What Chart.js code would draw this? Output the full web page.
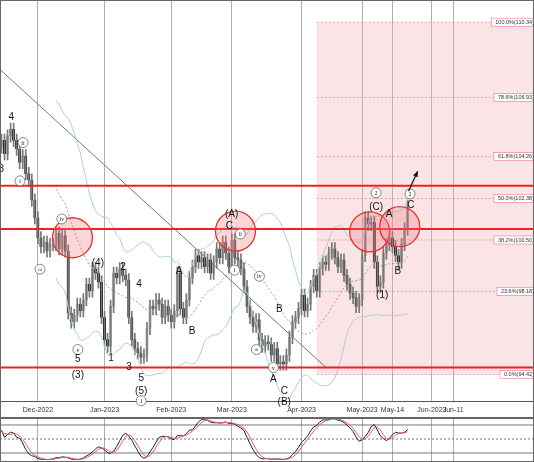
<!DOCTYPE html>
<html><head><meta charset="utf-8">
<script src="https://cdn.jsdelivr.net/npm/chart.js@4"></script>
<style>
html,body{margin:0;padding:0;background:#fff;width:534px;height:462px;overflow:hidden;font-family:"Liberation Sans",Arial,sans-serif}
#m{position:absolute;left:0;top:0}
#o{position:absolute;left:0;top:418px}
</style></head><body>
<div id="m" style="width:534px;height:418px"><canvas id="c1"></canvas></div>
<div id="o" style="width:534px;height:44px"><canvas id="c2"></canvas></div>
<script>
// ---- data ----
const startDate = '2022-11-14';
const closes = [
104.7,105.0,104.4,105.2,105.5,
105.0,104.6,104.0,104.3,103.5,
103.2,102.3,101.5,100.6,100.2,
100.4,100.0,100.3,
100.3,100.8,100.1,100.7,100.0,
97.2,96.8,97.1,97.6,97.3,
97.8,98.5,98.2,99.2,99.0,
98.6,97.0,96.0,95.7,97.5,
99.0,98.8,99.2,98.9,98.7,
97.0,96.0,95.6,95.4,95.2,
95.3,96.5,97.5,97.4,97.8,
97.6,97.0,97.5,
97.1,96.8,97.3,99.0,97.4,
97.0,97.8,98.8,99.3,99.8,
99.5,99.7,99.3,99.6,99.0,
99.5,100.1,99.7,100.4,99.9,
99.3,100.5,99.7,
99.6,99.2,98.4,97.5,97.0,
96.6,96.9,96.0,95.7,95.9,
95.8,95.3,95.6,94.9,95.0,
94.9,95.3,96.1,96.8,97.0,
97.4,98.0,97.3,97.6,98.4,
98.9,98.2,99.2,99.5,
99.4,99.9,100.1,99.7,99.3,
99.6,98.9,98.5,98.1,97.9,
97.5,97.8,99.8,101.5,101.2,
101.3,99.5,98.4,98.6,99.9,
100.3,100.6,100.2,99.8,99.5,
100.3,101.0,102.0];
const firstOpen = 104.5;
const wick = 0.28;
const tickDates = ['2022-12-01','2023-01-02','2023-02-01','2023-03-01','2023-04-03','2023-05-01','2023-05-15','2023-06-01','2023-06-12'];
const tickLabels = ['Dec-2022','Jan-2023','Feb-2023','Mar-2023','Apr-2023','May-2023','May-14','Jun-2023','Jun-11'];
const fibPct = ['100.0%','78.6%','61.8%','50.0%','38.2%','23.6%','0.0%'];
const fibVal = [110.34,106.93,104.26,102.38,100.50,98.18,94.42];
const redLevels = [102.95,101.0,94.74];
const fibStartDate = '2023-04-10';
const waves = [
 [0.9,103.7,'3',0],[4.2,106.03,'4',0],[8.1,104.9,'ii',1],[7.1,103.17,'i',1],[13.7,99.18,'iii',1],[20.9,101.45,'iv',1],
 [26.2,95.55,'v',1],[26.2,95.1,'5',0],[26.2,94.37,'(3)',0],[32.8,99.45,'(4)',0],[41.1,99.27,'2',0],[37.1,95.15,'1',0],
 [46.4,98.5,'4',0],[43.1,94.74,'3',0],[47.1,94.24,'5',0],[47.1,93.65,'(5)',0],[47.1,93.24,'1',1],[59.6,99.09,'A',0],
 [63.9,96.37,'B',0],[76.9,101.68,'(A)',0],[76.2,101.13,'C',0],[79.8,100.77,'ii',1],[77.9,99.14,'i',1],[86.1,98.86,'iv',1],
 [92.7,97.37,'B',0],[85.1,95.55,'iii',1],[90.7,94.2,'A',0],[90.7,94.74,'v',1],[94.3,93.65,'C',0],[94.3,93.15,'(B)',0],
 [124.6,102.63,'2',1],[124.6,102.0,'(C)',0],[128.9,101.68,'A',0],[131.8,99.09,'B',0],[126.6,98.0,'(1)',0],[135.8,102.58,'2',1],[136.1,102.08,'C',0]
];
const circles = [[24.4,100.6],[78.2,100.9],[122.5,100.87],[132.4,101.1]];
const arrowFrom = [135.3,102.7], arrowTo = [138.3,103.6];
const trendFrom = [0.5,108.2], trendTo = [108.4,94.7];

// ---- derived ----
function weekdays(from,n){const d=new Date(from+'T00:00:00Z');const out=[];while(out.length<n){const w=d.getUTCDay();if(w!==0&&w!==6)out.push(d.toISOString().slice(0,10));d.setUTCDate(d.getUTCDate()+1);}return out;}
const days = weekdays(startDate,260);
const idx = s=>days.indexOf(s);
const d0 = idx('2022-12-01');
const X = i=>i+d0-13;
const opens = closes.map((c,i)=>i?closes[i-1]:firstOpen);
const bodies = closes.map((c,i)=>({x:i,y:[opens[i],c]}));
const wicks = closes.map((c,i)=>({x:i,y:[Math.min(opens[i],c)-wick,Math.max(opens[i],c)+wick]}));
const up = closes.map((c,i)=>c>=opens[i]);
function sma(a,n,i){let s=0;for(let k=i-n+1;k<=i;k++)s+=a[k];return s/n;}
const bbM=[],bbU=[],bbL=[];
closes.forEach((c,i)=>{if(i<19){return;}const m=sma(closes,20,i);let v=0;for(let k=i-19;k<=i;k++)v+=(closes[k]-m)**2;const sd=Math.sqrt(v/20);bbM.push({x:i,y:m});bbU.push({x:i,y:m+2*sd});bbL.push({x:i,y:m-2*sd});});
const highs=closes.map((c,i)=>Math.max(c,opens[i])+wick), lows=closes.map((c,i)=>Math.min(c,opens[i])-wick);
const rawK=closes.map((c,i)=>{const a=Math.max(0,i-20);const h=Math.max(...highs.slice(a,i+1)),l=Math.min(...lows.slice(a,i+1));return h>l?100*(c-l)/(h-l):50;});
const avg=(arr,n)=>arr.map((v,i)=>{const s=arr.slice(Math.max(0,i-n+1),i+1);return s.reduce((p,q)=>p+q,0)/s.length;});
const K=avg(rawK,5);
const D=avg(K,3);
const tickIdx = tickDates.map(idx);
const xmin = d0-12.5, xmax = d0+163.7;

const xCommon = {type:'linear',offset:false,min:xmin,max:xmax,afterBuildTicks:a=>{a.ticks=tickIdx.map(v=>({value:v}));},
  grid:{color:'#999',borderDash:[3,3],drawTicks:false,lineWidth:0.8,offset:false},border:{display:true,color:'#555'}};

const overlay = {id:'ov',
 beforeDatasetsDraw(ch){const {ctx,scales:{x,y},chartArea:ca}=ch;ctx.save();
  const fx=x.getPixelForValue(idx(fibStartDate));
  ctx.fillStyle='rgba(240,170,175,0.32)';ctx.fillRect(fx,y.getPixelForValue(fibVal[0]),ca.right-fx,y.getPixelForValue(fibVal[6])-y.getPixelForValue(fibVal[0]));
  ctx.strokeStyle='rgba(225,90,100,0.7)';ctx.setLineDash([2,2]);ctx.lineWidth=0.7;
  fibVal.forEach(v=>{const py=y.getPixelForValue(v);ctx.beginPath();ctx.moveTo(fx,py);ctx.lineTo(ca.right,py);ctx.stroke();});
  ctx.setLineDash([]);
  ctx.strokeStyle='#777';ctx.lineWidth=1;ctx.beginPath();ctx.moveTo(x.getPixelForValue(X(trendFrom[0])),y.getPixelForValue(trendFrom[1]));ctx.lineTo(x.getPixelForValue(X(trendTo[0])),y.getPixelForValue(trendTo[1]));ctx.stroke();
  ctx.restore();},
 afterDatasetsDraw(ch){const {ctx,scales:{x,y},chartArea:ca}=ch;ctx.save();
  ctx.strokeStyle='#f02020';ctx.lineWidth=2;
  redLevels.forEach(v=>{const py=y.getPixelForValue(v);ctx.beginPath();ctx.moveTo(ca.left,py);ctx.lineTo(ca.right,py);ctx.stroke();});
  circles.forEach(c=>{ctx.beginPath();ctx.arc(x.getPixelForValue(X(c[0])),y.getPixelForValue(c[1]),20,0,Math.PI*2);ctx.fillStyle='rgba(240,120,130,0.3)';ctx.fill();ctx.strokeStyle='#e83030';ctx.lineWidth=1.3;ctx.stroke();});
  ctx.font='5.5px "Liberation Sans"';ctx.textAlign='right';ctx.textBaseline='middle';
  fibVal.forEach((v,i)=>{const py=y.getPixelForValue(v);const t=fibPct[i]+'('+v.toFixed(2)+')';const w=ctx.measureText(t).width;
   ctx.fillStyle='#fff';ctx.fillRect(ca.right-w-4,py-4,w+6,8);ctx.strokeStyle='#e58';ctx.lineWidth=0.5;ctx.strokeRect(ca.right-w-4,py-4,w+6,8);ctx.fillStyle='#333';ctx.fillText(t,ca.right,py);});
  ctx.textAlign='center';
  waves.forEach(w=>{const px=x.getPixelForValue(X(w[0])),py=y.getPixelForValue(w[1]);
   if(w[3]){ctx.beginPath();ctx.arc(px,py,5,0,Math.PI*2);ctx.fillStyle='#fff';ctx.fill();ctx.strokeStyle='#555';ctx.lineWidth=0.7;ctx.stroke();ctx.fillStyle='#222';ctx.font=(w[2].length>2?'4.5px':'6px')+' "Liberation Serif"';ctx.fillText(w[2],px,py+0.5);}
   else{ctx.fillStyle='#111';ctx.font='10px "Liberation Sans"';ctx.fillText(w[2],px,py);}});
  const ax=x.getPixelForValue(X(arrowFrom[0])),ay=y.getPixelForValue(arrowFrom[1]),bx=x.getPixelForValue(X(arrowTo[0])),by=y.getPixelForValue(arrowTo[1]);
  ctx.strokeStyle='#111';ctx.lineWidth=1.2;ctx.beginPath();ctx.moveTo(ax,ay);ctx.lineTo(bx,by);ctx.stroke();
  const an=Math.atan2(by-ay,bx-ax);ctx.fillStyle='#111';ctx.beginPath();ctx.moveTo(bx,by);ctx.lineTo(bx-6*Math.cos(an-0.45),by-6*Math.sin(an-0.45));ctx.lineTo(bx-6*Math.cos(an+0.45),by-6*Math.sin(an+0.45));ctx.closePath();ctx.fill();
  ctx.strokeStyle='#666';ctx.lineWidth=1;ctx.strokeRect(ca.left+0.5,ca.top+0.5,ca.width-1,ch.height-1);
  ctx.restore();}
};

new Chart(document.getElementById('c1'),{
 data:{datasets:[
  {type:'line',data:bbU,borderColor:'#a8cfcf',borderWidth:1,pointRadius:0,tension:0.3},
  {type:'line',data:bbL,borderColor:'#a8cfcf',borderWidth:1,pointRadius:0,tension:0.3},
  {type:'line',data:bbM,borderColor:'#888',borderWidth:0.8,borderDash:[2,2],pointRadius:0,tension:0.3},
  {type:'bar',data:wicks,backgroundColor:'#777',barThickness:1,grouped:false},
  {type:'bar',data:bodies,backgroundColor:up.map(u=>u?'#ddd':'#111'),borderColor:up.map(u=>u?'#888':'#111'),borderWidth:0.6,barThickness:2.4,grouped:false,borderSkipped:false}
 ]},
 options:{responsive:true,maintainAspectRatio:false,animation:false,layout:{padding:0},
  plugins:{legend:{display:false},tooltip:{enabled:false}},
  scales:{x:{...xCommon,ticks:{callback:(v)=>tickLabels[tickIdx.indexOf(v)]||'',font:{size:7,family:'Liberation Sans'},color:'#333',padding:4,maxRotation:0,autoSkip:false}},
   y:{min:93.2,max:111.34,display:false}}},
 plugins:[overlay]
});

const oscOv={id:'oo',beforeDatasetsDraw(ch){const {ctx,scales:{y},chartArea:ca}=ch;ctx.save();ctx.strokeStyle='#555';ctx.lineWidth=0.8;
 [80,50,20].forEach(v=>{ctx.setLineDash(v===50?[2,2]:[]);const py=y.getPixelForValue(v);ctx.beginPath();ctx.moveTo(ca.left,py);ctx.lineTo(ca.right,py);ctx.stroke();});ctx.restore();},
 afterDraw(ch){const {ctx}=ch;ctx.strokeStyle='#666';ctx.strokeRect(0.5,0.5,ch.width-1,ch.height-1);}};
new Chart(document.getElementById('c2'),{type:'line',
 data:{datasets:[
  {data:D.map((v,i)=>({x:i,y:v})),borderColor:'#e06060',borderWidth:1,pointRadius:0},
  {data:K.map((v,i)=>({x:i,y:v})),borderColor:'#222',borderWidth:1,pointRadius:0}]},
 options:{responsive:true,maintainAspectRatio:false,animation:false,layout:{padding:0},
  plugins:{legend:{display:false},tooltip:{enabled:false}},
  scales:{x:{...xCommon,ticks:{display:false},border:{display:false}},y:{min:0.7,max:95,display:false}}},
 plugins:[oscOv]});
</script></body></html>
